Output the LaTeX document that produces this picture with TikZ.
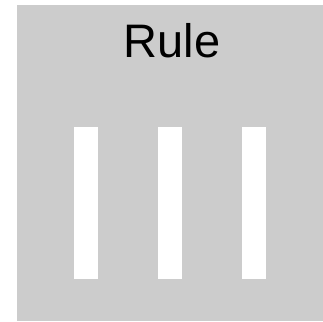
\documentclass[tikz,border=0pt]{standalone}
\usepackage{fontspec}
\setmainfont{Liberation Sans}
\usepackage{tikz}
\usetikzlibrary{positioning}

\begin{document}
\begin{tikzpicture}[
  x=1pt, y=-1pt,
  panel/.style={fill=black!20, draw=none},
  bar/.style={rectangle, fill=white, draw=none, inner sep=0pt,
              minimum width=24pt, minimum height=152pt},
  title/.style={font=\fontsize{47}{50}\selectfont, inner sep=0pt}
]
\useasboundingbox (0,0) rectangle (323,321);
\fill[panel] (17,5) rectangle (323,321);
\node[title, anchor=base] (rule) at (172,57) {Rule};
\node[bar, anchor=north west] (barA) at (74,127) {};
\node[bar, anchor=north west] (barB) at (158,127) {};
\node[bar, anchor=north west] (barC) at (242,127) {};
\end{tikzpicture}
\end{document}
